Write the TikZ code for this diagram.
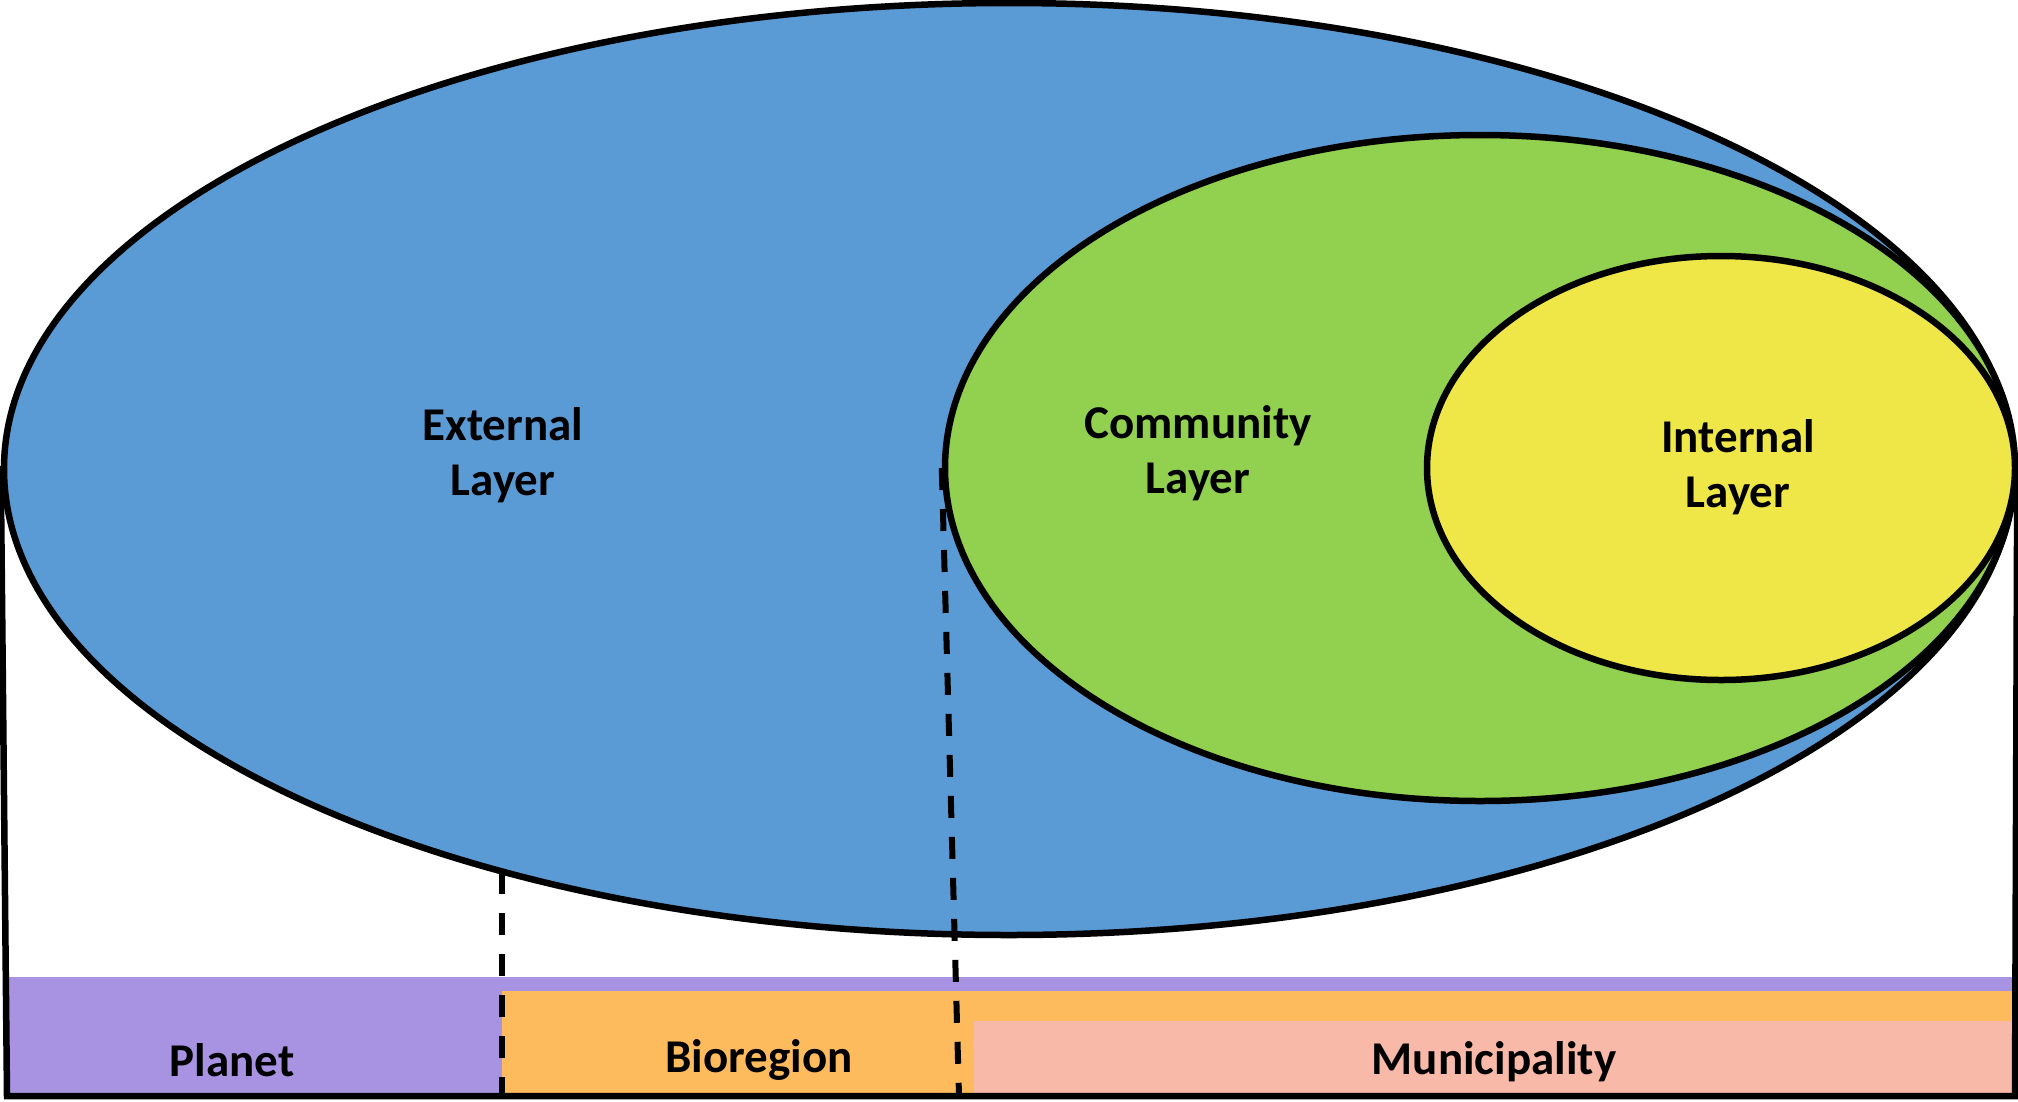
\documentclass[tikz,border=0pt]{standalone}
\usepackage{fontspec}
\setmainfont{Carlito}
\usetikzlibrary{shapes.geometric}
\definecolor{extblue}{RGB}{91,155,213}
\definecolor{comgreen}{RGB}{146,208,80}
\definecolor{intyellow}{RGB}{239,231,72}
\definecolor{planetpurple}{RGB}{168,146,226}
\definecolor{bioorange}{RGB}{254,187,94}
\definecolor{munipink}{RGB}{248,185,168}
\begin{document}
\begin{tikzpicture}[x=1pt,y=-1pt,
  layer/.style={ellipse, draw=black, line width=6.5pt, inner sep=0pt},
  lbl/.style={font=\bfseries\fontsize{47}{55}\selectfont, align=center, text=black},
  frameline/.style={line width=6.5pt, line cap=rect},
  divider/.style={line width=6pt, dash pattern=on 22pt off 19pt}]
\useasboundingbox (0,0) rectangle (2018,1101);

% scale bands along the bottom
\fill[planetpurple] (9,977) rectangle (2014,1094);
\fill[bioorange] (502,991) rectangle (2014,1094);
\fill[munipink] (974,1021) rectangle (2014,1094);
\node[lbl] (planet) at (232,1060) {Planet};
\node[lbl] (bioregion) at (759,1060) {Bioregion};
\node[lbl] (municipality) at (1494,1062) {Municipality};

% nested layers
\node[layer, fill=extblue, minimum width=2010pt, minimum height=932pt] (external) at (1009,469) {};
\node[layer, fill=comgreen, minimum width=1070pt, minimum height=666pt] (community) at (1480,468) {};
\node[layer, fill=intyellow, minimum width=588pt, minimum height=424pt] (internal) at (1721,468) {};

\node[lbl] (extlbl) at (503,455) {External\\Layer};
\node[lbl] (comlbl) at (1198,453) {Community\\Layer};
\node[lbl] (intlbl) at (1738,467) {Internal\\Layer};

% outer frame
\coordinate (bl) at (7,1096);
\coordinate (br) at (2015,1096);
\draw[frameline] (external.west) -- (bl) -- (br) -- (external.east);

% dashed dividers between scales
\coordinate (d1top) at (502,872);
\coordinate (d1bot) at (502,1096);
\coordinate (d2bot) at (959,1096);
\draw[divider] (d1top) -- (d1bot);
\draw[divider] (community.west) -- (d2bot);
\end{tikzpicture}
\end{document}
